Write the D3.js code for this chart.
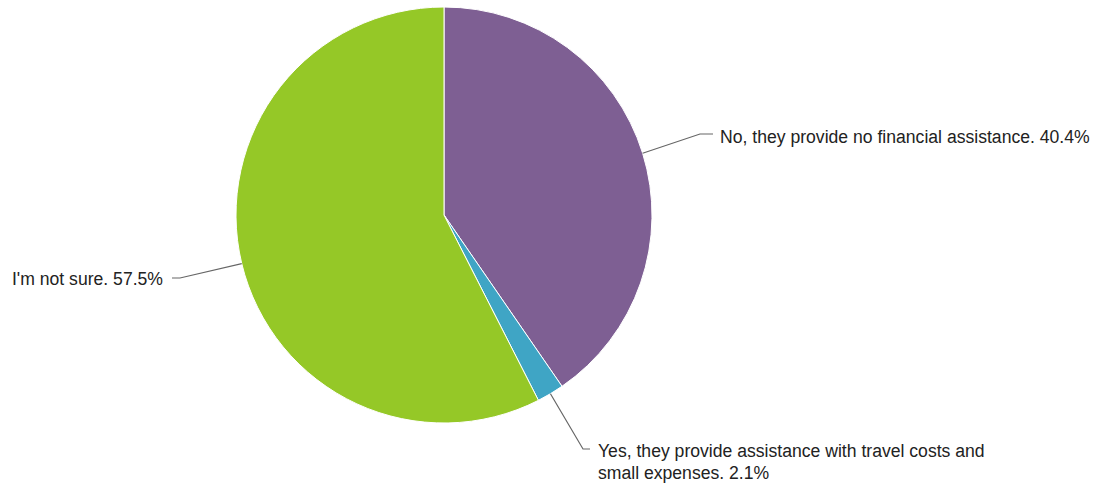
<!DOCTYPE html>
<html><head><meta charset="utf-8">
<script src="https://cdn.jsdelivr.net/npm/d3@7"></script>
<style>body{margin:0;background:#fff}svg{display:block}</style>
</head><body>
<svg id="c" width="1105" height="486"></svg>
<script>
const labels = ["No, they provide no financial assistance.", "Yes, they provide assistance with travel costs and small expenses.", "I'm not sure."];
const values = [40.4, 2.1, 57.5];
const colors = ["#7e5f93", "#3fa5c5", "#95c827"];

const svg = d3.select("#c");
const cx = 444, cy = 215, r = 208;
const g = svg.append("g").attr("transform", `translate(${cx},${cy})`);
const pie = d3.pie().sort(null).value(d => d)(values);
const arc = d3.arc().innerRadius(0).outerRadius(r);
g.selectAll("path").data(pie).join("path")
  .attr("d", arc).attr("fill", (d,i)=>colors[i])
  .attr("stroke", "#fff").attr("stroke-width", 1);

const layout = [
  {elbow:[700-cx,134-cy], end:713-cx, tx:720-cx, ty:[143-cy], anchor:"start", lines:[labels[0]+" "+values[0].toFixed(1)+"%"]},
  {elbow:[583-cx,449-cy], end:590-cx, tx:598-cx, ty:[457-cy,479-cy], anchor:"start", lines:["Yes, they provide assistance with travel costs and","small expenses. "+values[1].toFixed(1)+"%"]},
  {elbow:[180-cx,278-cy], end:172-cx, tx:163-cx, ty:[285-cy], anchor:"end", lines:[labels[2]+" "+values[2].toFixed(1)+"%"]}
];
pie.forEach((d,i)=>{
  const a = (d.startAngle+d.endAngle)/2;
  const p0 = [r*Math.sin(a), -r*Math.cos(a)];
  const L = layout[i];
  g.append("polyline")
    .attr("points", [p0, L.elbow, [L.end, L.elbow[1]]].map(p=>p.join(",")).join(" "))
    .attr("fill","none").attr("stroke","#666").attr("stroke-width",1.2);
  L.lines.forEach((t,j)=>{
    g.append("text").attr("x",L.tx).attr("y",L.ty[j]).attr("text-anchor",L.anchor)
      .attr("font-family","Liberation Sans, Arial, sans-serif").attr("font-size",17.6)
      .attr("fill","#222").text(t);
  });
});
</script>
</body></html>
